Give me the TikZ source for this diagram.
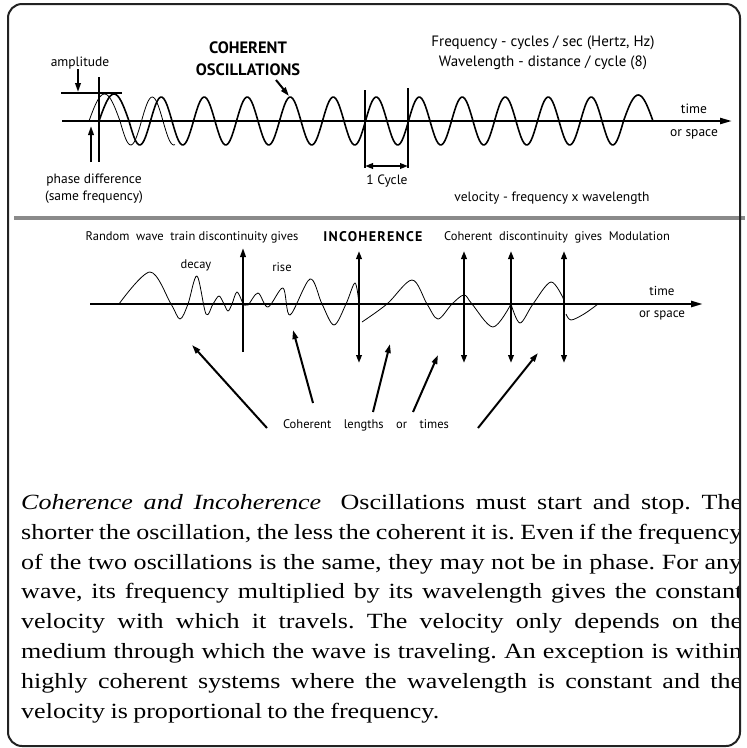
\documentclass[tikz,border=0pt]{standalone}
\usepackage{fontspec}
\newfontfamily\legenda{Liberation Serif}[FakeStretch=1.2]
\newfontfamily\rotulos{PT Sans}
\newcommand\espacos{\frenchspacing\spaceskip=0.25em plus 0.6em minus 0.16em\relax}
\usepackage{xcolor}
\definecolor{moldura}{HTML}{222222}
\definecolor{divisor}{HTML}{8A8A8A}
\usetikzlibrary{arrows.meta,positioning}

\begin{document}
\begin{tikzpicture}[x=1pt, y=-1pt,
  txt/.style={font=\rotulos\fontsize{13.5}{17}\selectfont, inner sep=0pt, align=center},
  txtb/.style={font=\rotulos\fontsize{12.5}{15}\selectfont, inner sep=0pt},
  titulo/.style={font=\rotulos\bfseries\fontsize{16.5}{22}\selectfont, inner sep=0pt, align=center},
  eixo/.style={line width=2.2pt, -{Triangle[length=12pt, width=6pt]}},
  onda/.style={line width=1.6pt, line join=round},
  fina/.style={line width=0.8pt, line join=round},
  seta/.style={line width=2pt, -{Triangle[length=9pt, width=5.5pt]}},
  duplo/.style={line width=2pt, {Triangle[length=8pt, width=5.5pt]}-{Triangle[length=8pt, width=5.5pt]}}]
  \useasboundingbox (0,0) rectangle (747,748);
  % Coerente
  \coordinate (e1) at (62,121);
  \coordinate (e2) at (732,121);
  \draw[eixo] (e1) -- (e2);
  \draw[onda] (61,93) -- (122,93);
  \draw[line width=2pt] (99,77) -- (99,162);
  \draw[onda] plot[domain=99:129, samples=25] (\x, {121-27*sin(((\x-99)/30)*180)})
    -- plot[domain=129:623.5, samples=300] (\x, {121+24*sin(((\x-129)/21.5)*180)})
    -- plot[domain=623.5:653, samples=25] (\x, {121-26*sin(((\x-623.5)/29.5)*180)});
  \draw[fina] plot[domain=89:120, samples=25] (\x, {121-27*sin(((\x-89)/31)*180)})
    -- plot[domain=120:175, samples=40] (\x, {121+24*sin(((\x-120)/21.5)*180)});
  \node[txt] (amp) at (80,63) {amplitude};
  \coordinate (amptip) at (78,92);
  \draw[seta] (amp.south -| amptip) -- (amptip);
  \node[txt] (fase) at (94,188.5) {phase difference\\(same frequency)};
  \coordinate (fasebase) at (91,162);
  \coordinate (fasetip) at (91,126);
  \draw[seta] (fasebase) -- (fasetip);
  \node[titulo] (coh) at (248,59) {COHERENT\\OSCILLATIONS};
  \coordinate (cohbase) at (276,80);
  \coordinate (cohtip) at (289,96);
  \draw[seta] (cohbase) -- (cohtip);
  \node[txt, font=\rotulos\fontsize{15}{20}\selectfont] (freq) at (543,53) {Frequency - cycles / sec (Hertz, Hz)\\Wavelength - distance / cycle (8)};
  \node[txt, font=\rotulos\fontsize{13.5}{23}\selectfont] (tempo) at (694,122) {time\\or space};
  \coordinate (c1) at (365,166);
  \coordinate (c2) at (408,166);
  \draw[line width=2pt] (365,90) -- (365,168);
  \draw[line width=2pt] (408,88) -- (408,168);
  \draw[duplo] (c1) -- (c2);
  \node[txt] (ciclo) at (387,181) {1 Cycle};
  \node[txt] (vel) at (552,198) {velocity - frequency x wavelength};
  \draw[divisor, line width=4pt] (14,218) -- (745,218);
  % Incoerente
  \node[txtb] (random) at (192,237) {Random\ \ wave\ \ train discontinuity gives};
  \node[titulo, font=\rotulos\bfseries\fontsize{14}{15}\selectfont\addfontfeatures{LetterSpace=9}] (incoh) at (373,237) {INCOHERENCE};
  \node[txtb] (modul) at (557,237) {Coherent\ \ discontinuity\ \ gives\ \ Modulation};
  \node[txtb] (decay) at (196,265) {decay};
  \node[txtb] (rise) at (282,267) {rise};
  \coordinate (f1) at (90,304);
  \coordinate (f2) at (703,304);
  \draw[eixo, line width=2.4pt] (f1) -- (f2);
  \node[txt, font=\rotulos\fontsize{13}{22}\selectfont] (tempo2) at (662,303) {time\\or space};
  \draw[fina] plot[smooth, tension=0.55] coordinates {(119,304) (150,272) (171,304) (180,319) (188,304) (197,276) (206,314) (213,304) (219,296) (224,304) (228,311) (232,304) (237,292) (243,304)};
  \draw[fina] plot[smooth, tension=0.55] coordinates {(243,304) (248,305) (258,293) (268,307) (283,288) (290,315) (310,279) (322,304) (334,325) (346,304) (355,283) (359,304)};
  \draw[fina] plot[smooth, tension=0.55] coordinates {(362,322) (387,304) (412,280) (427,304) (438,319) (452,304) (464,295) (472,304) (493,327) (511,304)};
  \draw[fina] plot[smooth, tension=0.55] coordinates {(511,304) (520,323) (533,304) (551,282) (564,300)};
  \draw[fina] plot[smooth, tension=0.55] coordinates {(566,314) (571,320) (584,314) (598,304)};
  \draw[seta] (243,352) -- (243,248);
  \foreach \x in {359,464,511,564}
    \draw[duplo] (\x,251) -- (\x,363);
  \node[txtb] (clen) at (366,425) {Coherent\hspace{1em}lengths\hspace{1em}or\hspace{1em}times};
  \coordinate (p1) at (267,428); \coordinate (q1) at (192,345);
  \coordinate (p2) at (313,403); \coordinate (q2) at (293,330);
  \coordinate (p3) at (373,412); \coordinate (q3) at (390,344);
  \coordinate (p4) at (413,412); \coordinate (q4) at (438,355);
  \coordinate (p5) at (478,428); \coordinate (q5) at (538,353);
  \foreach \i in {1,...,5}
    \draw[seta] (p\i) -- (q\i);
  % Legenda
  \begin{scope}
    \clip (0,0) rectangle (740,748);
    \node[font=\legenda\fontsize{21.7}{29.9}\selectfont, anchor=north west, inner sep=0pt, text width=721pt, align=justify] (texto) at (21,494)
      {\espacos\textit{Coherence and Incoherence}\hspace{0.4em} Oscillations must start and stop. The\linebreak
       shorter the oscillation, the less the coherent it is. Even if the frequency\linebreak
       of the two oscillations is the same, they may not be in phase. For any\linebreak
       wave, its frequency multiplied by its wavelength gives the constant\linebreak
       velocity with which it travels. The velocity only depends on the\linebreak
       medium through which the wave is traveling. An exception is within\linebreak
       highly coherent systems where the wavelength is constant and the\linebreak
       velocity is proportional to the frequency.};
  \end{scope}
  \draw[moldura, line width=2pt, rounded corners=14pt] (8,4) rectangle (740,746);
\end{tikzpicture}
\end{document}
